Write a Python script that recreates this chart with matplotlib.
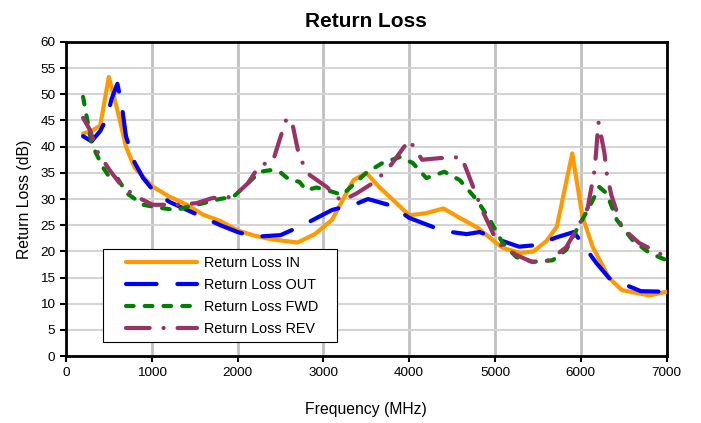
import matplotlib
matplotlib.use("Agg")
import matplotlib.pyplot as plt
from matplotlib.lines import Line2D
from matplotlib.legend_handler import HandlerLine2D

plt.rcParams['font.family'] = ['Liberation Sans', 'DejaVu Sans']
plt.rcParams['lines.scale_dashes'] = False

# data (MHz, dB)
f_in = [200, 300, 400, 500, 600, 700, 800, 1000, 1200, 1400, 1600, 1800, 2000, 2200,
        2400, 2600, 2700, 2900, 3100, 3350, 3500, 3650, 3800, 4000, 4200, 4400, 4600,
        4800, 5000, 5100, 5300, 5450, 5600, 5720, 5900, 6020, 6140, 6330, 6480, 6800, 7000]
rl_in = [42.5, 43, 44, 53.3, 47, 40, 36, 32.5, 30.5, 29, 27, 25.8, 24, 23,
         22.3, 21.9, 21.7, 23.3, 26, 33.6, 35, 32.3, 30, 26.9, 27.3, 28.2, 26.3,
         24.5, 21.8, 20.6, 19.7, 20, 22, 24.7, 38.7, 26.6, 20.8, 14.9, 12.6, 11.6, 12.3]

f_out = [200, 300, 400, 480, 530, 600, 650, 700, 800, 900, 1000, 1200, 1400, 1600, 1800,
         2000, 2200, 2500, 2760, 3100, 3400, 3520, 3800, 4000, 4400, 4670, 4820, 5050,
         5280, 5480, 5720, 5920, 6180, 6330, 6700, 7000]
rl_out = [42, 41, 43, 45.5, 49, 52, 48, 42, 37, 34, 32, 29.5, 28, 26.5, 25,
          23.7, 22.8, 23.1, 25, 27.9, 29.2, 30, 28.7, 26.4, 23.9, 23.3, 23.7, 22.2,
          20.9, 21.2, 22.7, 23.7, 17.8, 14.9, 12.4, 12.3]

f_fwd = [200, 300, 430, 490, 600, 710, 900, 1100, 1290, 1410, 1600, 1790, 1950, 2120,
         2260, 2380, 2490, 2610, 2720, 2800, 2920, 3040, 3220, 3500, 3690, 3890, 4040,
         4200, 4410, 4590, 4790, 4940, 5090, 5250, 5440, 5670, 5830, 5950, 6100, 6215,
         6300, 6420, 6600, 6800, 7000]
rl_fwd = [49.5, 40.5, 36.1, 34.6, 34, 31.1, 28.9, 28.3, 27.9, 28.5, 29.2, 30, 30.4, 33,
          35.2, 35.5, 35.2, 33.6, 33.3, 31.7, 32.2, 31.7, 30.8, 35, 36.9, 38, 36.9,
          34, 35.2, 33.6, 29.8, 26, 21.6, 18.9, 18, 18.3, 20.3, 24.1, 28.5, 32.3,
          31.1, 26, 22.2, 19.7, 18.3]

f_rev = [200, 280, 370, 510, 660, 830, 1010, 1290, 1520, 1710, 1950, 2120, 2260, 2410,
         2490, 2570, 2630, 2720, 2840, 3040, 3210, 3390, 3600, 3770, 4000, 4150, 4350,
         4610, 4670, 4760, 4850, 5030, 5250, 5430, 5630, 5830, 5960, 6080, 6160, 6180,
         6205, 6275, 6300, 6355, 6480, 6680, 6910, 7000]
rl_rev = [45.5, 43.2, 39, 35.5, 32.3, 30.4, 28.9, 28.9, 29.2, 30.2, 30.4, 33, 36.5, 37.1,
          41.3, 45.3, 45.1, 38, 34.6, 32.3, 29.6, 31.1, 33.3, 36.1, 41.3, 37.5, 37.8,
          38, 35.5, 31.7, 27.9, 21.6, 19.3, 18, 18.3, 20.8, 24.5, 28.3, 35.5, 39.4,
          44.7, 38.8, 35, 30.8, 24.5, 21.6, 19.7, 18.7]

labels = ['Return Loss IN', 'Return Loss OUT', 'Return Loss FWD', 'Return Loss REV']

fig = plt.figure(figsize=(7.01, 4.23), dpi=100)
ax = fig.add_axes([0.094, 0.158, 0.857, 0.743])

lw = 3
ax.plot(f_in, rl_in, color='#FF9900', lw=lw, solid_capstyle='round', label=labels[0], zorder=3)
ax.plot(f_out, rl_out, color='#0000FF', lw=lw, dashes=(22, 15), dash_capstyle='round',
        label=labels[1], zorder=4)
ax.plot(f_fwd, rl_fwd, color='#008000', lw=lw, dashes=(5.5, 8), dash_capstyle='round',
        label=labels[2], zorder=5)
ax.plot(f_rev, rl_rev, color='#993366', lw=lw, dashes=(17, 10, 0.1, 10), dash_capstyle='round',
        label=labels[3], zorder=6)

ax.set_xlim(0, 7000)
ax.set_ylim(0, 60)
ax.set_xticks(range(0, 7001, 1000))
ax.set_yticks(range(0, 61, 5))

ax.yaxis.grid(True, color='#d4d4d4', lw=1.5)
ax.xaxis.grid(True, color='#c0c0c0', lw=2)
ax.set_axisbelow(True)

for s in ax.spines.values():
    s.set_color('black')
    s.set_linewidth(2)

ax.tick_params(axis='both', direction='out', length=4, width=1.5, labelsize=9.7, colors='black')

ax.set_title('Return Loss', fontsize=15, fontweight='bold', pad=11)
ax.set_xlabel('Frequency (MHz)', fontsize=11.3, labelpad=17)
ax.set_ylabel('Return Loss (dB)', fontsize=11.3, labelpad=6)

# extra left padding before the legend line samples
leg = ax.legend(loc='lower left', bbox_to_anchor=(0.0616, 0.0446, 0.389, 0.287), mode='expand',
                fontsize=10.4, handlelength=6.05, frameon=True, fancybox=False,
                borderpad=0.45, labelspacing=0.55, handletextpad=0.5, borderaxespad=0,
                handler_map={Line2D: HandlerLine2D(xpad=1.15)})
leg.get_frame().set_edgecolor('black')
leg.get_frame().set_linewidth(0.8)
leg.get_frame().set_alpha(1)

fig.savefig('out.png', dpi=100)
